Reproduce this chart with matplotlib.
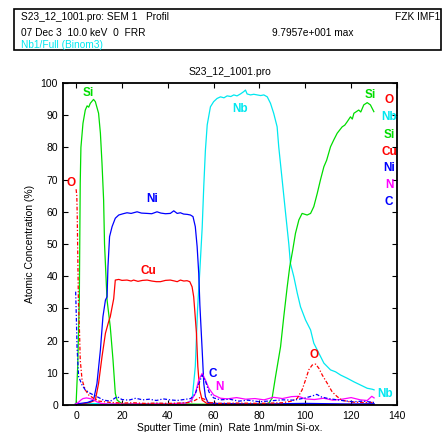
import matplotlib
matplotlib.use("Agg")
import matplotlib.pyplot as plt
from matplotlib.patches import Rectangle

plt.rcParams['font.family'] = ['Liberation Sans', 'DejaVu Sans']

W, H = 442, 432

# ---------------- data ----------------
si_x = [-0.3, 0, 0.7, 1.4, 1.8, 2.1, 3, 4, 4.8, 5.5, 6.2, 7.6, 8.4, 9.8, 10.6, 11.3, 12, 12.4, 13.5,
        14.9, 16.1, 17.1, 17.9, 20, 30, 40, 50, 60, 70, 80, 84, 85.5, 87, 89.2, 90.6, 92.1, 93.2,
        94.5, 95.7, 97.2, 98.6, 100.8, 102.3, 103.7, 105.2, 106.6, 108.1, 109.3, 111, 112.4, 113.9,
        116.1, 117.2, 118.3, 119.7, 120.5, 121.2, 123.3, 124.2, 125.5, 127, 128.4, 129.9]
si_y = [0, 0.5, 12, 33, 69, 80, 87.5, 91.6, 92.9, 92.5, 93.7, 94.9, 94.2, 90.6, 84.4, 75, 63.7, 50, 32.6,
        24.3, 14, 3.6, 1.5, 0.4, 0.3, 0.3, 0.3, 0.2, 0.3, 0.3, 0.5, 2.1, 8.8, 18.1, 27.4, 36.7, 42.9,
        48.1, 53.3, 57.5, 59.5, 59.0, 59.5, 61.6, 65.7, 69.9, 74.0, 76.0, 80.2, 82.3, 84.4,
        86.4, 86.9, 88.0, 89.5, 88.8, 90.6, 91.6, 91.0, 93.2, 93.9, 93.2, 91.1]

nb_x = [-0.3, 5, 10, 15, 20, 25, 30, 35, 40, 45, 48, 50.6, 52, 53, 54, 55, 55.7, 56.4, 57.2, 58.6, 60,
        61.5, 63, 64.5, 65.9, 67.5, 68.8, 70.2, 71.7, 73.1, 73.9, 74.6, 76.1, 77.5, 79, 80.5, 81.9,
        83.4, 84.8, 86.2, 87.7, 88.4, 89.9, 91.4, 92.8, 93.5, 95, 96.5, 97.9, 100.1, 102.3, 103.7,
        105.9, 108.1, 111, 113.2, 115.4, 118.3, 121.2, 124.1, 127, 129.2, 130]
nb_y = [0.3, 0.5, 0.4, 0.3, 0.4, 0.3, 0.4, 0.5, 0.4, 0.5, 0.6, 1.5, 12, 30, 42, 55, 68, 79, 87, 92.6, 94.2,
        95.2, 95.7, 95.4, 96.0, 95.8, 96.3, 96.0, 96.6, 97.3, 97.8, 96.6, 96.3, 96.5, 96.3, 96.1, 96.3,
        95.7, 93.7, 90.6, 86.4, 80.2, 69.9, 59.5, 50.0, 44.0, 39.8, 34.7, 30.5, 26.4, 23.3, 19.2,
        16.1, 13.0, 10.9, 10.3, 9.3, 8.3, 7.2, 6.2, 5.2, 4.9, 4.7]

ni_x = [-0.3, 2, 5, 7.6, 9.1, 10.6, 11.7, 12.8, 13.5, 13.9, 14.6, 15.7, 17.1, 18.6, 20.5, 22.2, 24,
        26.6, 28.5, 31, 33, 35.3, 37, 39, 41.1, 42.6, 44.1, 45.5, 46.9, 48.5, 49.9, 51, 52, 52.8, 53.5,
        54, 55, 55.7, 56.4, 57.5, 60, 70, 80, 90, 100, 110, 120, 130]
ni_y = [0.3, 0.5, 0.8, 1.5, 6.7, 17.1, 27.4, 32.6, 33.6, 43, 52.3, 55.4, 58, 59, 59.4, 59.7, 59.5,
        60, 59.6, 59.5, 59.4, 60, 59.6, 59.4, 59.5, 60.3, 59.5, 59.7, 59.3, 59.2, 59, 58.5, 55.4, 49.2, 40.9,
        31, 17, 6.7, 2.6, 0.8, 0.5, 0.4, 0.3, 0.4, 0.5, 0.4, 0.3, 0.4]

cu_x = [-0.3, 3, 6, 8.4, 9.8, 11.3, 12.8, 14.2, 14.9, 15.7, 16.4, 17.1, 18.6, 20, 22.2, 24, 25.1, 27,
        29, 31, 33, 35, 36.8, 39, 41.1, 43, 44.1, 45.5, 47, 48.4, 49.6, 50.6, 51.3, 51.8, 52.5, 53.1,
        53.9, 55, 57, 60, 70, 80, 90, 100, 110, 120, 130]
cu_y = [0.2, 0.4, 0.8, 1.5, 6.7, 15, 22.3, 25.9, 27.4, 30.4, 33, 38.8, 39, 38.7, 38.8, 38.5, 38.8, 38.4,
        38.7, 38.8, 38.5, 38.3, 38.3, 38.7, 38.8, 38.5, 38.3, 38.8, 38.5, 38.6, 38.3, 36.7, 33.6, 29, 22.3, 12,
        4.7, 1.5, 0.5, 0.3, 0.2, 0.2, 0.2, 0.3, 0.2, 0.2, 0.2]

o_x = [0, 0.3, 0.5, 0.7, 1.0, 1.5, 1.8, 2.6, 4, 5.5, 7.6, 10, 15, 20, 25, 30, 35, 40, 45, 50, 52, 54,
       56, 58, 62, 70, 80, 90, 94, 96.5, 98.6, 100.1, 101.5, 103, 104.5, 105.9, 107.4, 109.6, 111.7,
       113.9, 116, 120, 125, 130]
o_y = [67, 65, 58.5, 48, 32.6, 22.3, 14, 7.8, 4.7, 3.1, 2.1, 1.2, 0.8, 0.6, 0.7, 0.5, 0.6, 0.5, 0.6, 0.8,
       1.5, 2.3, 1.8, 0.8, 0.5, 0.6, 0.5, 0.7, 1.2, 2.1, 4.7, 7.8, 10.9, 12.4, 12.7, 11.4, 9.3, 6.7, 4.1,
       2.6, 1.5, 0.9, 0.8, 0.8]

c_x = [-0.2, 0.1, 0.4, 1.1, 2.6, 4, 6.2, 9.1, 12, 15, 17.9, 20, 23, 26, 29, 32, 35, 38, 41, 44, 47, 50,
       52, 53.5, 55, 56.4, 58, 60, 63, 67, 71, 75, 80, 85, 90, 95, 100, 103, 105, 107, 110, 113, 117,
       121, 125, 130]
c_y = [35.2, 27.4, 18.1, 8.8, 6.2, 4.7, 3.6, 2.6, 1.5, 1.2, 2.6, 1.7, 1.5, 2.1, 1.6, 1.8, 1.4, 1.9, 1.6,
       1.4, 1.7, 2.0, 3.5, 6.5, 9.3, 7.5, 4.0, 2.2, 1.6, 1.8, 1.2, 1.5, 1.0, 1.3, 1.6, 1.5, 2.2, 2.8, 3.3,
       2.5, 2.0, 1.7, 1.3, 1.0, 1.2, 0.8]

n_x = [-0.2, 1, 2, 3, 4.5, 6, 7.5, 9, 11, 14, 18, 22, 26, 30, 35, 40, 45, 48, 50, 52, 53.5, 55, 56.4,
       57.9, 60, 63, 66, 70, 74, 78, 82, 86, 90, 94, 97, 100, 104, 108, 112, 116, 120, 124, 127, 129, 130]
n_y = [0.3, 0.8, 1.5, 2.0, 2.2, 2.0, 1.7, 1.0, 0.5, 0.3, 0.4, 0.3, 0.4, 0.3, 0.4, 0.3, 0.5, 0.6, 1.2,
       3.5, 7.8, 9.8, 7.8, 5.2, 3.1, 2.1, 1.9, 2.3, 1.8, 2.0, 1.6, 2.4, 2.0, 2.6, 2.7, 1.9, 1.7, 2.1, 1.5,
       1.8, 2.3, 1.6, 1.4, 2.7, 2.2]

legend_names = ["O", "Nb", "Si", "Cu", "Ni", "N", "C"]

RED = "#ff0000"
CYAN = "#00e8f0"
GREEN = "#00dd00"
BLUE = "#0000ff"
MAG = "#ff00ff"
legend_colors = [RED, CYAN, GREEN, RED, BLUE, MAG, BLUE]

# ---------------- figure ----------------
fig = plt.figure(figsize=(W / 100, H / 100), dpi=100)

# header box
fig.add_artist(Rectangle((14 / W, 1 - 50 / H), (441 - 14) / W, 41 / H,
                         transform=fig.transFigure, fill=False, lw=1.2, ec="black"))
hfs = 7.3
fig.text(21 / W, 1 - 17.5 / H, "S23_12_1001.pro: SEM 1   Profil", fontsize=hfs, va="center", ha="left")
fig.text(440 / W, 1 - 17.5 / H, "FZK IMF1", fontsize=hfs, va="center", ha="right")
fig.text(21 / W, 1 - 32.5 / H, "07 Dec 3  10.0 keV  0  FRR", fontsize=hfs, va="center", ha="left")
fig.text(272 / W, 1 - 32.5 / H, "9.7957e+001 max", fontsize=hfs, va="center", ha="left")
fig.text(21 / W, 1 - 44.5 / H, "Nb1/Full (Binom3)", fontsize=hfs, va="center", ha="left", color=CYAN)

ax = fig.add_axes([63.5 / W, (H - 405) / H, (397 - 63.5) / W, (405 - 83) / H])

lw = 0.9
ax.plot(nb_x, nb_y, color=CYAN, lw=lw)
ax.plot(si_x, si_y, color=GREEN, lw=lw)
ax.plot(cu_x, cu_y, color=RED, lw=lw)
ax.plot(ni_x, ni_y, color=BLUE, lw=lw)
ax.plot(n_x, n_y, color=MAG, lw=lw)
ax.plot(o_x, o_y, color=RED, lw=lw, ls=(0, (3, 1.5, 1, 1.5)))
ax.plot(c_x, c_y, color=BLUE, lw=lw, ls=(0, (3, 1.5, 1, 1.5)))

ax.set_xlim(-5.5, 140)
ax.set_ylim(0, 100)
ax.set_xticks([0, 20, 40, 60, 80, 100, 120, 140])
ax.set_yticks(range(0, 101, 10))
ax.tick_params(direction="in", top=True, right=True, length=3.5, width=0.8, labelsize=7.5, pad=4)
for s in ax.spines.values():
    s.set_linewidth(1.3)

ax.set_title("S23_12_1001.pro", fontsize=7.5, pad=6)
ax.set_ylabel("Atomic Concentration (%)", fontsize=7.5, labelpad=4)
ax.set_xlabel("Sputter Time (min)  Rate 1nm/min Si-ox.", fontsize=7.5, labelpad=2)

lfs = 8.5
# in-plot labels
ax.text(5.3, 96.9, "Si", color=GREEN, fontsize=lfs, fontweight="bold", ha="center", va="center")
ax.text(-2.2, 69, "O", color=RED, fontsize=lfs, fontweight="bold", ha="center", va="center")
ax.text(33.1, 63.9, "Ni", color=BLUE, fontsize=lfs, fontweight="bold", ha="center", va="center")
ax.text(31.7, 41.7, "Cu", color=RED, fontsize=lfs, fontweight="bold", ha="center", va="center")
ax.text(71.7, 91.8, "Nb", color=CYAN, fontsize=lfs, fontweight="bold", ha="center", va="center")
ax.text(128.2, 96.3, "Si", color=GREEN, fontsize=lfs, fontweight="bold", ha="center", va="center")
ax.text(104, 15.5, "O", color=RED, fontsize=lfs, fontweight="bold", ha="center", va="center")
ax.text(59.6, 9.6, "C", color=BLUE, fontsize=lfs, fontweight="bold", ha="center", va="center")
ax.text(62.5, 5.7, "N", color=MAG, fontsize=lfs, fontweight="bold", ha="center", va="center")
ax.text(135, 3.3, "Nb", color=CYAN, fontsize=lfs, fontweight="bold", ha="center", va="center", clip_on=False)

# right-side list
list_y = [94.7, 89.4, 83.9, 78.6, 73.6, 68.3, 63.0]
for name, col, yy in zip(legend_names, legend_colors, list_y):
    ax.text(136.6, yy, name, color=col, fontsize=lfs, fontweight="bold", ha="center", va="center",
            clip_on=False)

fig.savefig("out.png", dpi=100)
